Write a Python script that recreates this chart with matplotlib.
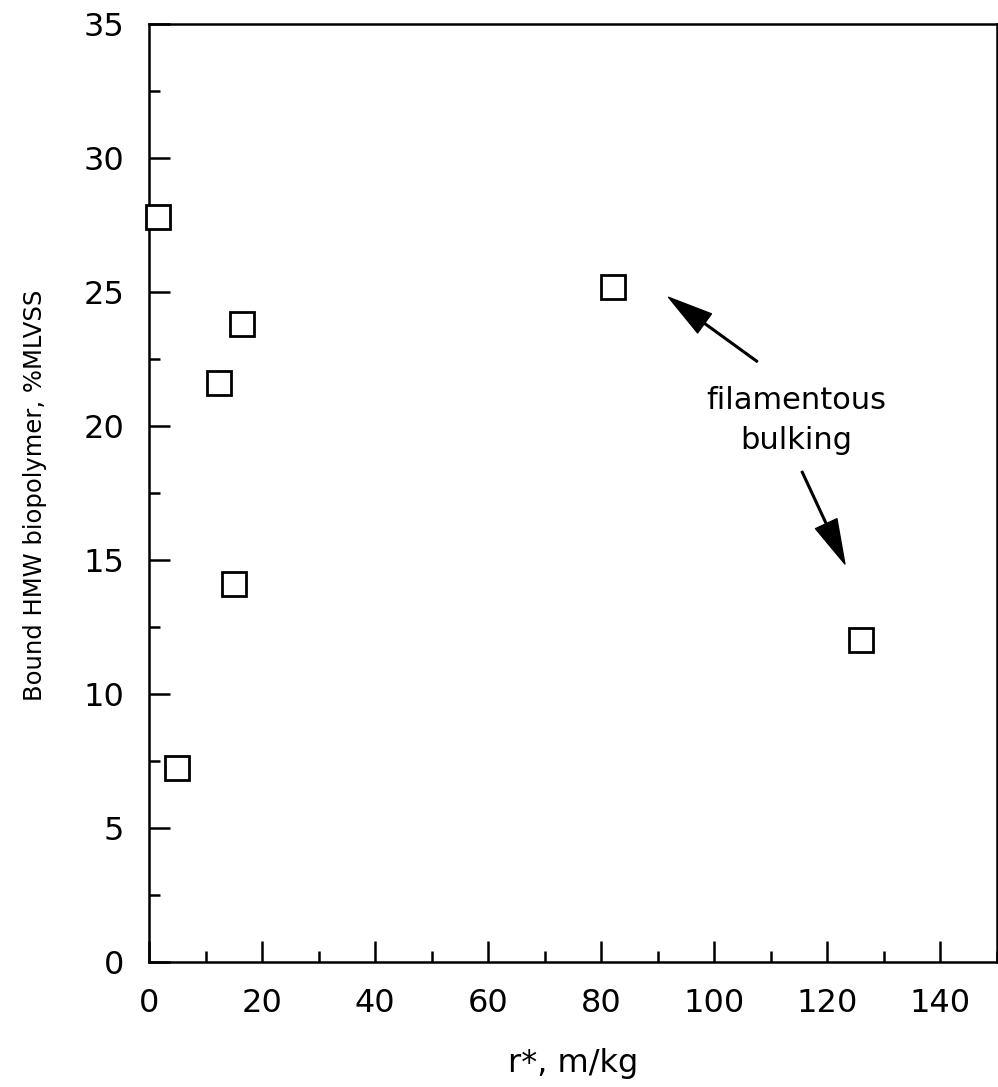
import matplotlib
matplotlib.use('Agg')
import matplotlib.pyplot as plt
from matplotlib.ticker import MultipleLocator

# data
r_star = [1.6, 4.9, 12.4, 15.1, 16.4, 82.1, 126.0]
hmw_pct = [27.8, 7.25, 21.6, 14.1, 23.8, 25.2, 12.0]

xticks = [0, 20, 40, 60, 80, 100, 120, 140]
yticks = [0, 5, 10, 15, 20, 25, 30, 35]

plt.rcParams['font.family'] = ['DejaVu Sans']

fig = plt.figure(figsize=(9.98, 10.87), dpi=100)
ax = fig.add_axes([0.1493, 0.115, 0.8497, 0.863])

ax.plot(r_star, hmw_pct, linestyle='none', marker='s', markersize=17,
        markerfacecolor='white', markeredgecolor='black', markeredgewidth=2,
        clip_on=False, zorder=3)

ax.set_xlim(0, 150)
ax.set_ylim(0, 35)
ax.set_xticks(xticks)
ax.set_yticks(yticks)
ax.xaxis.set_minor_locator(MultipleLocator(10))
ax.yaxis.set_minor_locator(MultipleLocator(2.5))

ax.tick_params(which='both', direction='in', top=False, right=False,
               width=1.8, labelsize=23)
ax.tick_params(axis='x', which='both', pad=19)
ax.tick_params(axis='y', which='both', pad=18)
ax.tick_params(which='major', length=15)
ax.tick_params(which='minor', length=8)
for s in ax.spines.values():
    s.set_linewidth(1.8)

ax.set_xlabel('r*, m/kg', fontsize=23)
ax.set_ylabel('Bound HMW biopolymer, %MLVSS', fontsize=17.5)
ax.xaxis.set_label_coords(0.5, -0.092)
ax.yaxis.set_label_coords(-0.12, 0.498)

arrow = dict(facecolor='black', edgecolor='black', width=1.2,
             headwidth=17, headlength=32, shrink=0)
ax.annotate('', xy=(91.9, 24.8), xytext=(107.6, 22.4), arrowprops=arrow)
ax.annotate('', xy=(123.1, 14.85), xytext=(115.5, 18.3), arrowprops=arrow)
ax.text(114.5, 20.2, 'filamentous\nbulking', ha='center', va='center',
        fontsize=22, linespacing=1.45)

fig.savefig('out.png', dpi=100)
